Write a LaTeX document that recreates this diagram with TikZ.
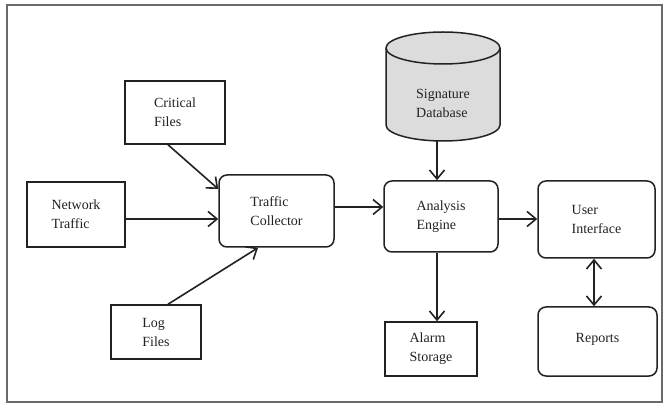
\documentclass[tikz,border=0pt]{standalone}
\usepackage{fontspec}
\setmainfont{Liberation Serif}
\usetikzlibrary{arrows.meta,calc}
\definecolor{ink}{HTML}{222222}
\definecolor{framecol}{HTML}{6A6A6A}
\definecolor{dbfill}{HTML}{DCDCDC}
\begin{document}
\begin{tikzpicture}[x=1pt,y=1pt,
  every node/.style={font=\fontsize{14}{19}\selectfont, text=ink},
  box/.style={draw=ink, line width=1.5pt, align=left, inner sep=0pt},
  rbox/.style={box, rounded corners=8pt},
  conn/.style={draw=ink, line width=1.6pt, -{Straight Barb[length=9pt,width=15pt,line width=1.6pt]}},
  bconn/.style={draw=ink, line width=1.6pt, {Straight Barb[length=9pt,width=15pt,line width=1.6pt]}-{Straight Barb[length=9pt,width=15pt,line width=1.6pt]}}]
\useasboundingbox (0,0) rectangle (663,404);
\fill[white] (0,0) rectangle (663,404);
\draw[framecol, line width=1.4pt] (7,2) rectangle (662,399);

% boxes
\node[box, minimum width=100pt, minimum height=63pt] (crit) at (175,291.5) {Critical\\Files};
\node[box, minimum width=98pt, minimum height=65pt] (net) at (76,189.5) {Network\\Traffic};
\node[box, minimum width=90pt, minimum height=54pt] (log) at (156,72) {Log\\Files};
\node[rbox, minimum width=115pt, minimum height=72pt] (tc) at (276.5,193) {Traffic\\Collector};
\node[rbox, minimum width=114pt, minimum height=71pt] (ae) at (441,187.5) {Analysis\\Engine};
\node[rbox, minimum width=117pt, minimum height=77pt] (ui) at (596.5,184.5) {User\\Interface};
\node[box, minimum width=92pt, minimum height=54pt] (alarm) at (431,55) {Alarm\\Storage};
\node[rbox, minimum width=119pt, minimum height=69pt] (rep) at (597.5,62.5) {\raisebox{8pt}{Reports}};

% database cylinder
\filldraw[fill=dbfill, draw=ink, line width=1.5pt]
  (386,356) -- (386,279) arc[start angle=180, end angle=360, x radius=57pt, y radius=16pt]
  -- (500,356) arc[start angle=0, end angle=180, x radius=57pt, y radius=16pt] -- cycle;
\draw[ink, line width=1.5pt] (386,356) arc[start angle=180, end angle=360, x radius=57pt, y radius=16pt];
\node[align=left] (db) at (443,301) {Signature\\Database};
\coordinate (dbbot) at (437,263);

% connectors
\draw[conn] ([xshift=-7pt]crit.south) -- ([yshift=22pt]tc.west);
\draw[conn] ([yshift=-4.5pt]net.east) -- ([yshift=-4.5pt]net.east -| tc.west);
\draw[conn] ([xshift=12pt]log.north) -- ([xshift=-18.5pt]tc.south);
\draw[conn] ([yshift=4pt]tc.east) -- ([yshift=4pt]tc.east -| ae.west);
\draw[conn] (dbbot) -- (dbbot |- ae.north);
\draw[conn] ([yshift=0.5pt]ae.east |- ui.west) -- ([yshift=0.5pt]ui.west);
\draw[conn] ([xshift=-4pt]ae.south) -- ([xshift=-4pt]ae.south |- alarm.north);
\draw[bconn] ([xshift=-2.5pt]ui.south) -- ([xshift=-2.5pt]ui.south |- rep.north);
\end{tikzpicture}
\end{document}
